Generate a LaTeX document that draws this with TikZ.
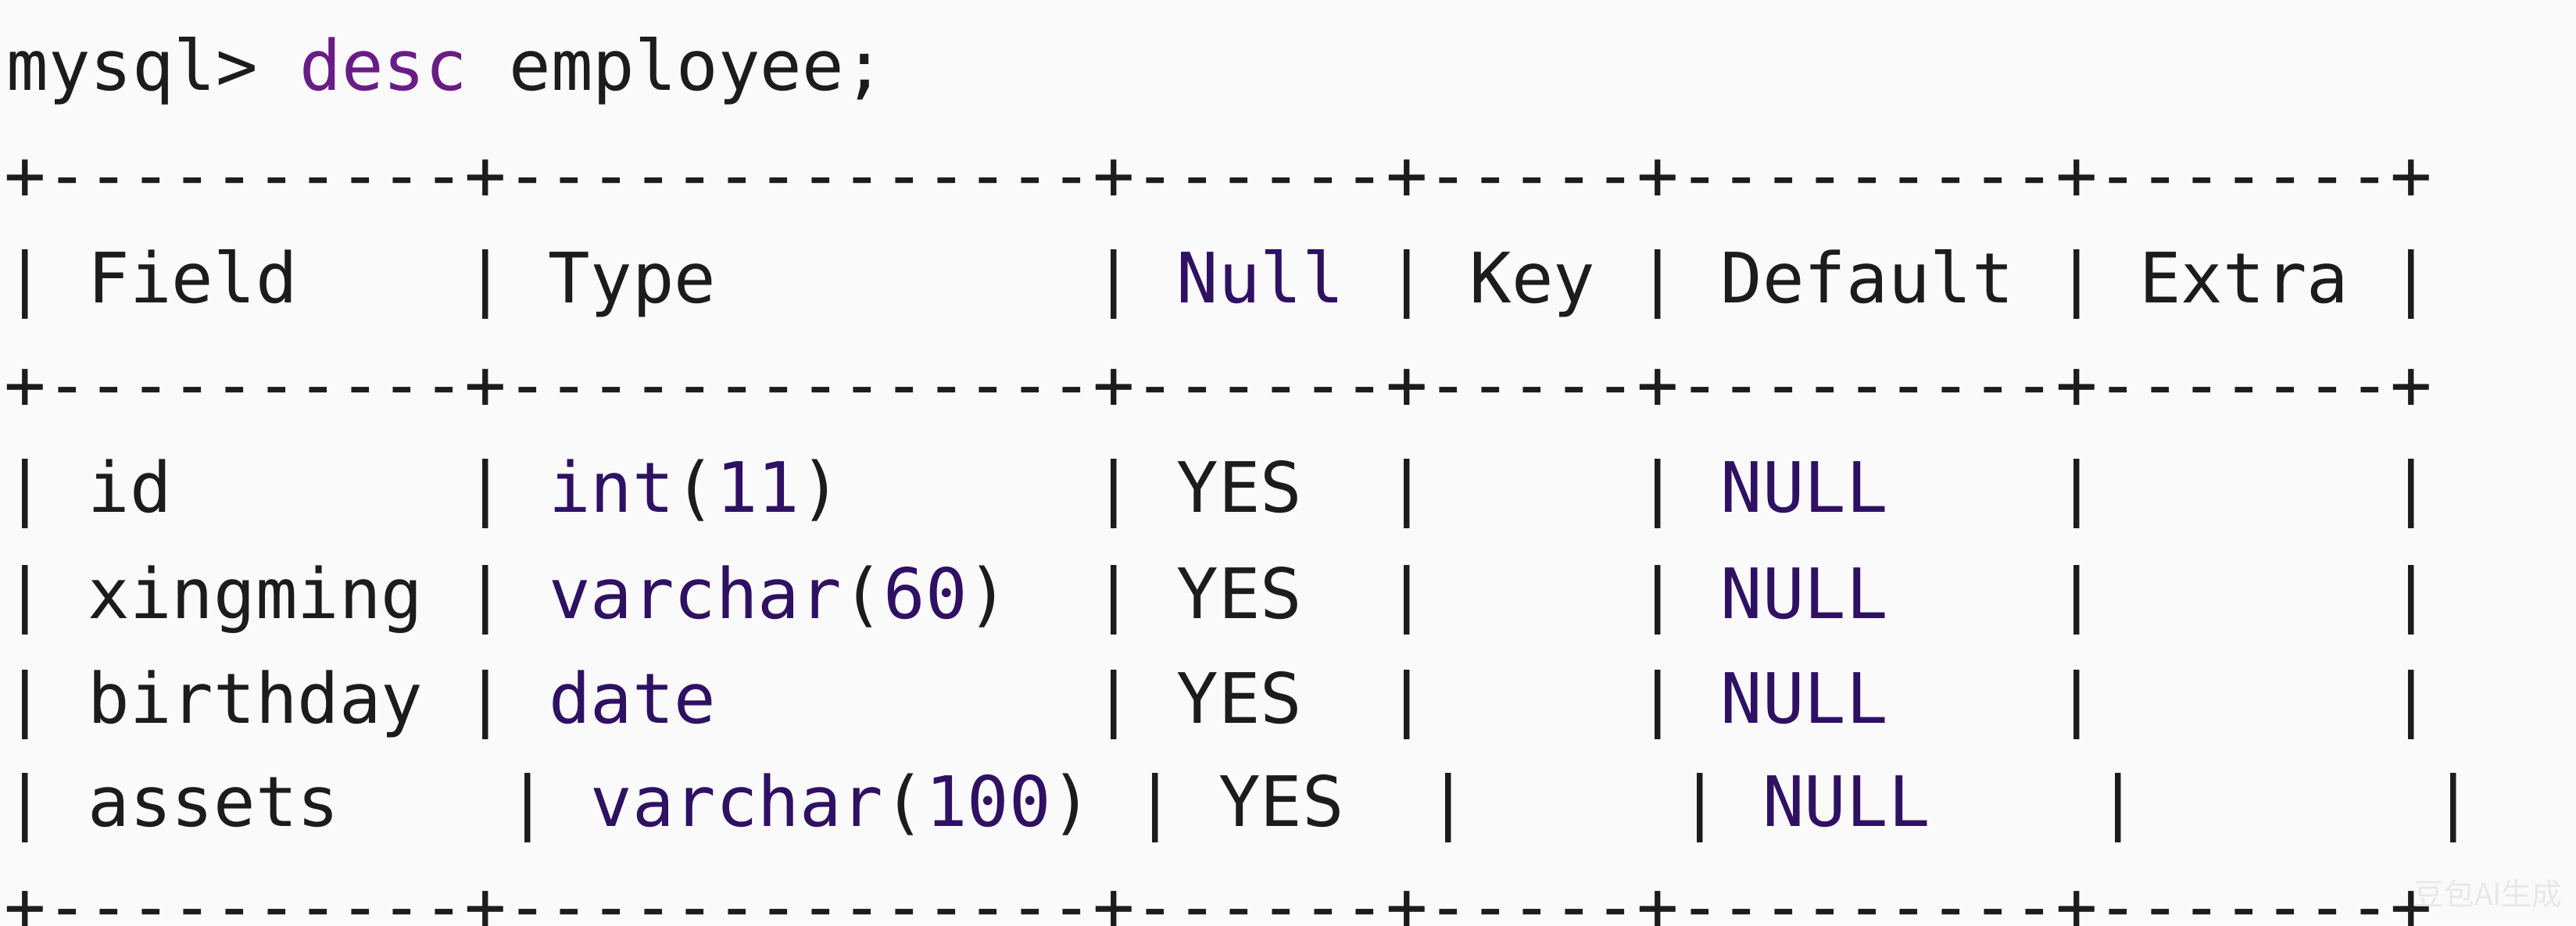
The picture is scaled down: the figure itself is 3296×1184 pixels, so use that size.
\documentclass[tikz,border=0pt]{standalone}
\usepackage{fontspec}
\setmonofont{DejaVu Sans Mono}
\newfontfamily\cjkfont{Noto Sans CJK SC}
\definecolor{kwcol}{HTML}{6A1C86}
\definecolor{typcol}{HTML}{2F1163}
\definecolor{inkcol}{HTML}{1C1C1C}
\definecolor{bgcol}{HTML}{FAFAFA}
\newcommand{\kwd}[1]{\textcolor{kwcol}{#1}}
\newcommand{\typ}[1]{\textcolor{typcol}{#1}}
\newcommand{\border}{+----------+--------------+------+-----+---------+-------+}
\tikzset{termline/.style={anchor=base west, inner sep=0pt, text=inkcol,
  font=\ttfamily\fontsize{25.3pt}{30pt}\selectfont}}
\begin{document}
\begin{tikzpicture}[x=0.01cm, y=-0.01cm]
\fill[bgcol] (0,0) rectangle (3296,1184);
\useasboundingbox (0,0) rectangle (3296,1184);
% prompt
\node[termline] (prompt) at (8,115) {mysql> \kwd{desc} employee;};
% header
\node[termline] (top) at (5,255) {\border};
\node[termline] (head) at (5,387) {|~Field~~~~|~Type~~~~~~~~~|~\typ{Null}~|~Key~|~Default~|~Extra~|};
\node[termline] (mid) at (5,523) {\border};
% rows
\node[termline] (rid) at (5,655) {|~id~~~~~~~|~\typ{int}(\typ{11})~~~~~~|~YES~~|~~~~~|~\typ{NULL}~~~~|~~~~~~~|};
\node[termline] (rxing) at (5,791) {|~xingming~|~\typ{varchar}(\typ{60})~~|~YES~~|~~~~~|~\typ{NULL}~~~~|~~~~~~~|};
\node[termline] (rbirth) at (5,925) {|~birthday~|~\typ{date}~~~~~~~~~|~YES~~|~~~~~|~\typ{NULL}~~~~|~~~~~~~|};
\node[termline] (rassets) at (5,1057) {|~assets~~~~|~\typ{varchar}(\typ{100})~|~YES~~|~~~~~|~\typ{NULL}~~~~|~~~~~~~|};
\node[termline] (bottom) at (5,1191) {\border};
% watermark
\node[anchor=base west, inner sep=0pt, text=black!9, font=\cjkfont\fontsize{11pt}{13pt}\selectfont] (mark) at (3088,1158) {豆包AI生成};
\end{tikzpicture}
\end{document}
